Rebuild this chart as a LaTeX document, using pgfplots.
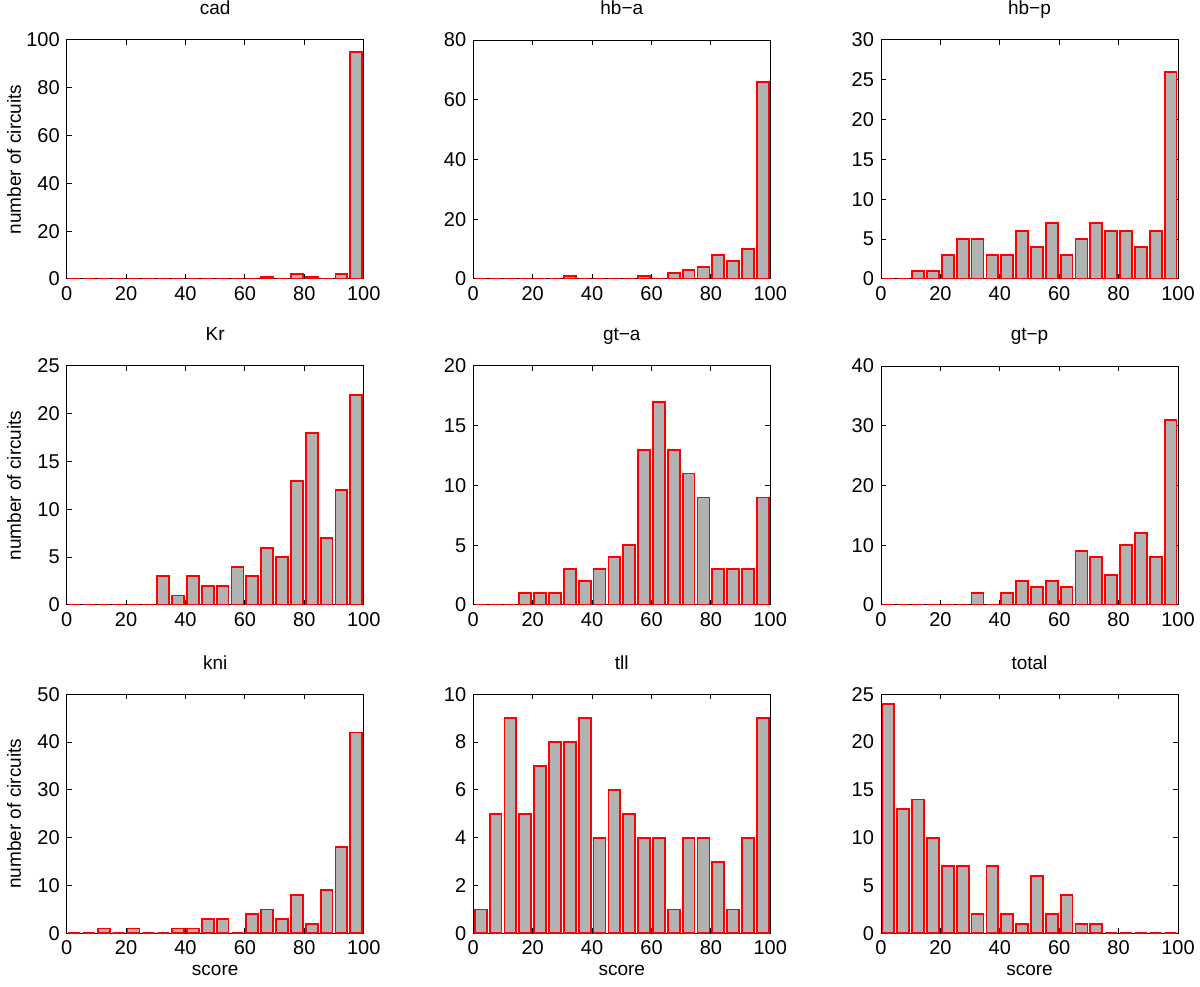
\documentclass[border=0pt]{standalone}
\usepackage{fontspec}
\setmainfont{Liberation Sans}
\usepackage{pgfplots}
\usepackage{pgfplotstable}
\pgfplotsset{compat=1.18}
\definecolor{barfill}{gray}{0.7}
\definecolor{baredge}{rgb}{1,0,0}

\pgfplotstableread{
x cad hba hbp kr gta gtp kni tll total
2.5 0 0 0 0 0 0 0 1 24
7.5 0 0 0 0 0 0 0 5 13
12.5 0 0 1 0 0 0 1 9 14
17.5 0 0 1 0 1 0 0 5 10
22.5 0 0 3 0 1 0 1 7 7
27.5 0 0 5 0 1 0 0 8 7
32.5 0 1 5 3 3 2 0 8 2
37.5 0 0 3 1 2 0 1 9 7
42.5 0 0 3 3 3 2 1 4 2
47.5 0 0 6 2 4 4 3 6 1
52.5 0 0 4 2 5 3 3 5 6
57.5 0 1 7 4 13 4 0 4 2
62.5 0 0 3 3 17 3 4 4 4
67.5 1 2 5 6 13 9 5 1 1
72.5 0 3 7 5 11 8 3 4 1
77.5 2 4 6 13 9 5 8 4 0
82.5 1 8 6 18 3 10 2 3 0
87.5 0 6 4 7 3 12 9 1 0
92.5 2 10 6 12 3 8 18 4 0
97.5 95 66 26 22 9 31 42 9 0
}\data

\pgfplotsset{
  hist/.style={
    scale only axis, width=148.5pt, height=119.5pt,
    xmin=0, xmax=100, ymin=0,
    xtick={0,20,...,100},
    tick align=inside, tick pos=both,
    major tick length=2.5pt,
    axis line style={line width=0.5pt},
    every tick/.style={black, line width=0.5pt},
    ticklabel style={font=\fontsize{10}{11}\selectfont},
    /pgf/number format/assume math mode=true,
    title style={font=\fontsize{9.5}{11}\selectfont, at={(axis description cs:0.5,1.055)}, anchor=base},
    xlabel style={font=\fontsize{9.5}{11}\selectfont, at={(axis description cs:0.5,-0.176)}, anchor=base},
    ylabel style={font=\fontsize{9.5}{11}\selectfont, at={(axis description cs:-0.154,0.5)}, anchor=base, rotate=0},
    anchor=south west,
  },
  hbar/.style={ybar, bar width=4, fill=barfill, draw=baredge, line width=0.9pt},
}

\begin{document}
\begin{tikzpicture}
\useasboundingbox (0,0) rectangle (600pt,493pt);
% row 1
\begin{axis}[hist, at={(33.35pt,353.5pt)}, title={cad}, ymax=100, ytick={0,20,...,100}, ylabel={number of circuits}]
\addplot[hbar] table[x=x,y=cad]{\data};
\end{axis}
\begin{axis}[hist, at={(236.65pt,353.5pt)}, title={hb−a}, ymax=80, ytick={0,20,...,80}]
\addplot[hbar] table[x=x,y=hba]{\data};
\end{axis}
\begin{axis}[hist, at={(440.5pt,353.5pt)}, title={hb−p}, ymax=30, ytick={0,5,...,30}]
\addplot[hbar] table[x=x,y=hbp]{\data};
\end{axis}
% row 2
\begin{axis}[hist, at={(33.35pt,190.5pt)}, title={Kr}, ymax=25, ytick={0,5,...,25}, ylabel={number of circuits}]
\addplot[hbar] table[x=x,y=kr]{\data};
\end{axis}
\begin{axis}[hist, at={(236.65pt,190.5pt)}, title={gt−a}, ymax=20, ytick={0,5,...,20}]
\addplot[hbar] table[x=x,y=gta]{\data};
\end{axis}
\begin{axis}[hist, at={(440.5pt,190.5pt)}, title={gt−p}, ymax=40, ytick={0,10,...,40}]
\addplot[hbar] table[x=x,y=gtp]{\data};
\end{axis}
% row 3
\begin{axis}[hist, at={(33.35pt,26.35pt)}, title={kni}, ymax=50, ytick={0,10,...,50}, ylabel={number of circuits}, xlabel={score}]
\addplot[hbar] table[x=x,y=kni]{\data};
\end{axis}
\begin{axis}[hist, at={(236.65pt,26.35pt)}, title={tll}, ymax=10, ytick={0,2,...,10}, xlabel={score}]
\addplot[hbar] table[x=x,y=tll]{\data};
\end{axis}
\begin{axis}[hist, at={(440.5pt,26.35pt)}, title={total}, ymax=25, ytick={0,5,...,25}, xlabel={score}]
\addplot[hbar] table[x=x,y=total]{\data};
\end{axis}
\end{tikzpicture}
\end{document}
